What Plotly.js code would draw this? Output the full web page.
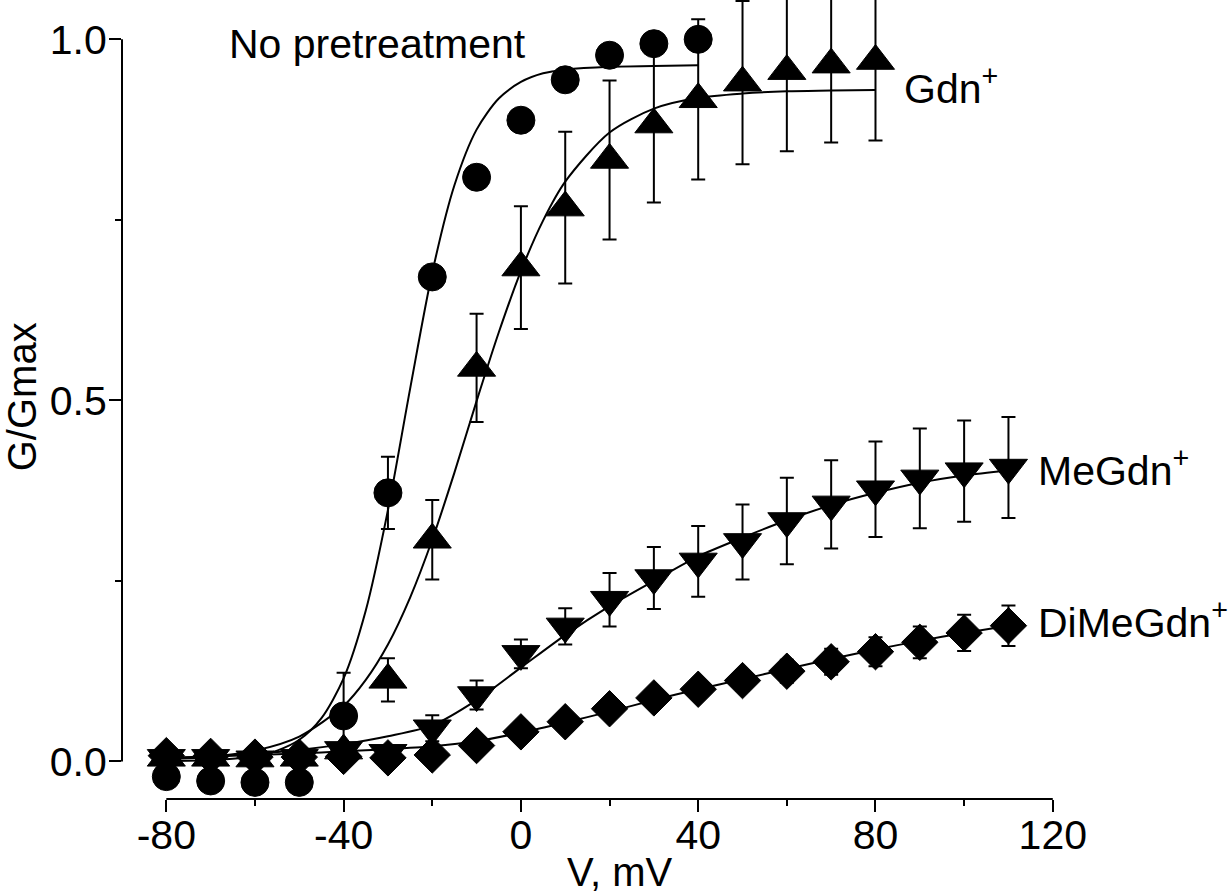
<!DOCTYPE html>
<html>
<head>
<meta charset="utf-8">
<script src="https://cdn.plot.ly/plotly-3.0.1.min.js"></script>
<style>html,body{margin:0;padding:0;background:#fff;}#chart{width:1232px;height:895px;}</style>
</head>
<body>
<div id="chart"></div>
<script>
// ---- data ----
const noPreV   = [-80, -70, -60, -50, -40, -30, -20, -10, 0, 10, 20, 30, 40];
const noPreG   = [-0.021, -0.027, -0.029, -0.029, 0.063, 0.372, 0.671, 0.809, 0.888, 0.944, 0.978, 0.994, 1.0];
const noPreErr = [0, 0, 0, 0, 0.06, 0.05, 0, 0, 0, 0, 0, 0, 0];

const gdnV   = [-80, -70, -60, -50, -40, -30, -20, -10, 0, 10, 20, 30, 40, 50, 60, 70, 80];
const gdnG   = [0.005, 0.005, 0.004, 0.005, 0.015, 0.113, 0.307, 0.545, 0.684, 0.767, 0.833, 0.882, 0.917, 0.94, 0.956, 0.965, 0.97];
const gdnErr = [0.004, 0.004, 0.004, 0.004, 0.01, 0.03, 0.055, 0.075, 0.085, 0.105, 0.11, 0.108, 0.111, 0.113, 0.111, 0.108, 0.11];

const meV   = [-80, -70, -60, -50, -40, -30, -20, -10, 0, 10, 20, 30, 40, 50, 60, 70, 80, 90, 100, 110];
const meG   = [0.005, 0.005, 0.003, 0.005, 0.016, 0.012, 0.046, 0.092, 0.149, 0.187, 0.224, 0.254, 0.277, 0.304, 0.333, 0.356, 0.377, 0.392, 0.402, 0.407];
const meErr = [0.004, 0.004, 0.004, 0.004, 0.005, 0.006, 0.018, 0.02, 0.02, 0.025, 0.037, 0.043, 0.049, 0.052, 0.06, 0.061, 0.066, 0.069, 0.07, 0.07];

const diV   = [-80, -70, -60, -50, -40, -30, -20, -10, 0, 10, 20, 30, 40, 50, 60, 70, 80, 90, 100, 110];
const diG   = [0.008, 0.007, 0.006, 0.006, 0.007, 0.005, 0.009, 0.022, 0.041, 0.055, 0.073, 0.088, 0.1, 0.112, 0.125, 0.138, 0.152, 0.165, 0.178, 0.188];
const diErr = [0.003, 0.003, 0.003, 0.003, 0.004, 0.005, 0.006, 0.007, 0.008, 0.008, 0.008, 0.01, 0.012, 0.014, 0.016, 0.018, 0.02, 0.022, 0.025, 0.028];

// fitted curves
const noPreFitV = [-80, -70, -60, -55, -50, -45, -40, -35, -30, -25, -20, -15, -10, -5, 0, 5, 10, 20, 30, 40];
const noPreFitG = [0.0005, 0.002, 0.007, 0.015, 0.03, 0.06, 0.115, 0.209, 0.348, 0.516, 0.677, 0.798, 0.875, 0.918, 0.941, 0.953, 0.958, 0.962, 0.963, 0.964];

const gdnFitV = [-80, -70, -60, -50, -40, -35, -30, -25, -20, -15, -10, -5, 0, 5, 10, 20, 30, 40, 50, 60, 70, 80];
const gdnFitG = [0.003, 0.0065, 0.015, 0.0345, 0.077, 0.113, 0.162, 0.227, 0.307, 0.4, 0.499, 0.594, 0.679, 0.749, 0.803, 0.871, 0.904, 0.919, 0.925, 0.928, 0.929, 0.93];

const meFitV = [-80, -70, -60, -50, -40, -30, -20, -10, 0, 10, 20, 30, 40, 50, 60, 70, 80, 90, 100, 110];
const meFitG = [0.004, 0.007, 0.011, 0.016, 0.024, 0.035, 0.05, 0.085, 0.13, 0.175, 0.215, 0.25, 0.284, 0.31, 0.334, 0.355, 0.372, 0.386, 0.396, 0.403];

const diFitV = [-80, -70, -60, -50, -40, -30, -20, -10, 0, 10, 20, 30, 40, 50, 60, 70, 80, 90, 100, 110];
const diFitG = [0.005, 0.007, 0.009, 0.011, 0.014, 0.017, 0.021, 0.028, 0.04, 0.054, 0.069, 0.085, 0.1, 0.114, 0.128, 0.142, 0.155, 0.167, 0.178, 0.188];

const xTickVals = [-80, -40, 0, 40, 80, 120];
const yTickVals = [0, 0.5, 1.0];
const labelNoPre = 'No pretreatment';
const labelGdn = 'Gdn<sup>+</sup>';
const labelMe = 'MeGdn<sup>+</sup>';
const labelDi = 'DiMeGdn<sup>+</sup>';
const xTitle = 'V, mV';
const yTitle = 'G/Gmax';

// ---- drawing ----
const FONT = 'Liberation Sans, Arial, Helvetica, sans-serif';
const K = '#000';

function fitTrace(x, y) {
  return {x: x, y: y, type: 'scatter', mode: 'lines', line: {color: K, width: 2, shape: 'spline', smoothing: 0.8},
          hoverinfo: 'skip', cliponaxis: false};
}
function ptsTrace(x, y, err, symbol, size) {
  return {x: x, y: y, type: 'scatter', mode: 'markers', cliponaxis: false,
          marker: {symbol: symbol, size: size, color: K, line: {color: K, width: 1}},
          error_y: {type: 'data', array: err, visible: true, color: K, thickness: 2, width: 7}};
}

const traces = [
  fitTrace(diFitV, diFitG),
  fitTrace(meFitV, meFitG),
  fitTrace(gdnFitV, gdnFitG),
  fitTrace(noPreFitV, noPreFitG),
  ptsTrace(diV, diG, diErr, 'diamond', 28),
  ptsTrace(meV, meG, meErr, 'triangle-down', 33),
  ptsTrace(gdnV, gdnG, gdnErr, 'triangle-up', 33),
  ptsTrace(noPreV, noPreG, noPreErr, 'circle', 28)
];

const layout = {
  width: 1232, height: 895,
  margin: {l: 122, r: 179, t: 0, b: 96, pad: 0},
  paper_bgcolor: '#fff', plot_bgcolor: '#fff',
  showlegend: false,
  font: {family: FONT, size: 40, color: K},
  xaxis: {
    range: [-90, 120.05], showgrid: false, zeroline: false, showline: false,
    tickmode: 'array', tickvals: xTickVals, ticktext: xTickVals.map(String),
    ticks: 'outside', ticklen: 12, tickwidth: 2, tickcolor: K, ticklabelstandoff: -12,
    tickfont: {family: FONT, size: 41, color: K},
    minor: {tickmode: 'array', tickvals: [-60, -20, 20, 60, 100], ticks: 'outside', ticklen: 6, tickwidth: 2, tickcolor: K, showgrid: false}
  },
  yaxis: {
    range: [-0.052, 1.0545], showgrid: false, zeroline: false, showline: false,
    tickmode: 'array', tickvals: yTickVals, ticktext: yTickVals.map(v => v.toFixed(1)),
    ticks: 'outside', ticklen: 12, tickwidth: 2, tickcolor: K, ticklabelstandoff: -6,
    tickfont: {family: FONT, size: 41, color: K},
    minor: {tickmode: 'array', tickvals: [0.25, 0.75], ticks: 'outside', ticklen: 6, tickwidth: 2, tickcolor: K, showgrid: false}
  },
  shapes: [
    {type: 'line', xref: 'x', yref: 'paper', x0: -80, x1: 120, y0: 0, y1: 0, line: {color: K, width: 2}},
    {type: 'line', xref: 'paper', yref: 'y', x0: 0, x1: 0, y0: 0, y1: 1.0, line: {color: K, width: 2}}
  ],
  annotations: [
    {text: labelNoPre, xref: 'paper', yref: 'y', x: 0.113, y: 0.994, xanchor: 'left', yanchor: 'middle', showarrow: false, font: {family: FONT, size: 41, color: K}},
    {text: labelGdn, xref: 'paper', yref: 'y', x: 0.838, y: 0.935, xanchor: 'left', yanchor: 'middle', showarrow: false, font: {family: FONT, size: 41, color: K}},
    {text: labelMe, xref: 'paper', yref: 'y', x: 0.982, y: 0.406, xanchor: 'left', yanchor: 'middle', showarrow: false, font: {family: FONT, size: 41, color: K}},
    {text: labelDi, xref: 'paper', yref: 'y', x: 0.982, y: 0.196, xanchor: 'left', yanchor: 'middle', showarrow: false, font: {family: FONT, size: 41, color: K}},
    {text: xTitle, xref: 'paper', yref: 'paper', x: 0.535, y: -0.091, xanchor: 'center', yanchor: 'middle', showarrow: false, font: {family: FONT, size: 40, color: K}},
    {text: yTitle, xref: 'paper', yref: 'y', x: -0.108, y: 0.505, xanchor: 'center', yanchor: 'middle', textangle: -90, showarrow: false, font: {family: FONT, size: 40, color: K}}
  ]
};

Plotly.newPlot('chart', traces, layout, {displayModeBar: false, staticPlot: true});
</script>
</body>
</html>
